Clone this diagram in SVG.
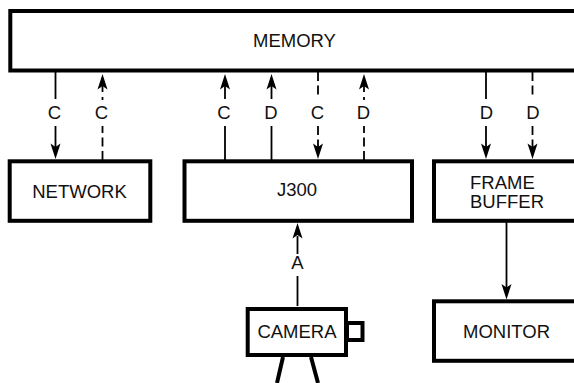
<svg xmlns="http://www.w3.org/2000/svg" width="574" height="383" viewBox="0 0 574 383">
<style>
.b{fill:#fff;stroke:#000;stroke-width:4}
.t{font-family:"Liberation Sans",Arial,sans-serif;font-size:18.500px;fill:#111;text-anchor:middle}
.st{text-anchor:start}
.l{stroke:#000;stroke-width:1.800;fill:none}
.d{stroke-dasharray:9 4.500}
.h{fill:#000;stroke:none}
.leg{stroke:#000;stroke-width:4;fill:none}
</style>
<defs>
<path id="dn" class="h" d="M-5,-15.500 L0,-12 L5,-15.500 L0,0 Z"/>
<path id="up" class="h" d="M-5,15.500 L0,12 L5,15.500 L0,0 Z"/>
</defs>
<rect width="574" height="383" fill="#fff"/>
<g id="connectors">
<path class="l" d="M55.500,70V99M55.500,126V148"/><use href="#dn" x="55.500" y="159"/>
<path class="l d" d="M102.500,160V126"/><path class="l" d="M102.500,100V97M102.500,92V86"/><use href="#up" x="102.500" y="74"/>
<path class="l" d="M225,160V126M225,99V86"/><use href="#up" x="225" y="74"/>
<path class="l" d="M271.500,160V126M271.500,99V86"/><use href="#up" x="271.500" y="74"/>
<path class="l d" d="M318,72V99M318,126V148"/><use href="#dn" x="318" y="159"/>
<path class="l d" d="M364,160V126"/><path class="l" d="M364,100V97M364,92V86"/><use href="#up" x="364" y="74"/>
<path class="l" d="M486,72V99M486,126V148"/><use href="#dn" x="486" y="159"/>
<path class="l d" d="M532.500,72V98M532.500,126V148"/><use href="#dn" x="532.500" y="159"/>
<path class="l" d="M297.500,306V276M297.500,254V236"/><use href="#up" x="297.500" y="223"/>
<path class="l" d="M506.500,221V288"/><use href="#dn" x="506.500" y="299.500"/>
</g>
<g id="memory"><rect class="b" x="10.300" y="11" width="566" height="59.500"/><text class="t" x="294.500" y="47">MEMORY</text></g>
<g id="network"><rect class="b" x="9.700" y="161.300" width="140.600" height="59.500"/><text class="t" x="79.500" y="198">NETWORK</text></g>
<g id="j300"><rect class="b" x="184.500" y="161.300" width="227.500" height="59.500"/><text class="t" x="297" y="196">J300</text></g>
<g id="frame-buffer"><rect class="b" x="434" y="161.300" width="142" height="59.500"/><text class="t st" x="470" y="189">FRAME</text><text class="t st" x="470" y="208">BUFFER</text></g>
<g id="monitor"><rect class="b" x="434" y="301.300" width="142" height="59.500"/><text class="t" x="506.500" y="338">MONITOR</text></g>
<g id="camera">
<rect class="b" x="347" y="323" width="15.500" height="17"/>
<rect class="b" x="247.700" y="309" width="98.300" height="46"/>
<text class="t" x="297" y="338">CAMERA</text>
<path class="leg" d="M283,357L277,383M311,357L318,383"/>
</g>
<g id="labels">
<text class="t" x="54.500" y="119">C</text><text class="t" x="101.500" y="119">C</text><text class="t" x="224" y="119">C</text><text class="t" x="271" y="119">D</text><text class="t" x="317.500" y="119">C</text><text class="t" x="363.500" y="119">D</text><text class="t" x="486.500" y="119">D</text><text class="t" x="533" y="119">D</text><text class="t" x="297.500" y="269">A</text>
</g>
</svg>
